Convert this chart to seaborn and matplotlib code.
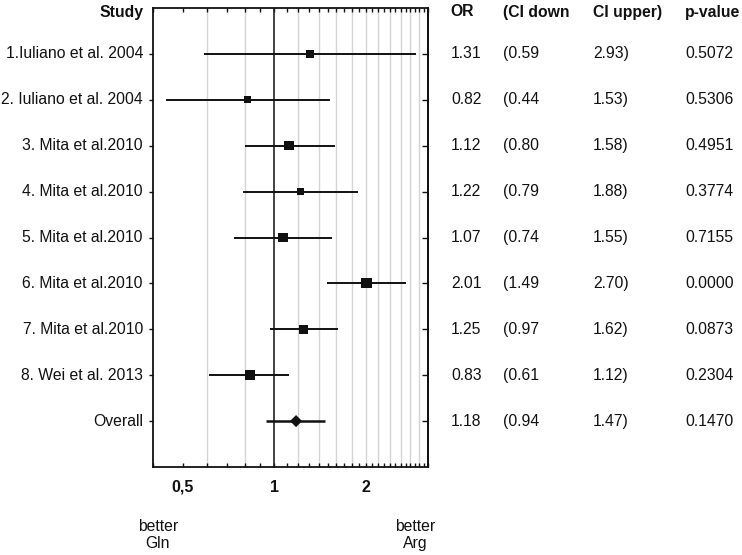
import numpy as np
import pandas as pd
import matplotlib
matplotlib.use('Agg')
import matplotlib.pyplot as plt
import matplotlib.transforms as mtrans
from matplotlib.ticker import FixedLocator, FixedFormatter, NullFormatter
import seaborn as sns

sns.set_style("white")
plt.rcParams['font.family'] = ['Liberation Sans', 'DejaVu Sans']

# data
studies = ['1.Iuliano et al. 2004', '2. Iuliano et al. 2004', '3. Mita et al.2010',
           '4. Mita et al.2010', '5. Mita et al.2010', '6. Mita et al.2010',
           '7. Mita et al.2010', '8. Wei et al. 2013', 'Overall']
odds = [1.31, 0.82, 1.12, 1.22, 1.07, 2.01, 1.25, 0.83, 1.18]
ci_low = [0.59, 0.44, 0.80, 0.79, 0.74, 1.49, 0.97, 0.61, 0.94]
ci_up = [2.93, 1.53, 1.58, 1.88, 1.55, 2.70, 1.62, 1.12, 1.47]
pvals = ['0.5072', '0.5306', '0.4951', '0.3774', '0.7155', '0.0000', '0.0873', '0.2304', '0.1470']
weights = [7.5, 7.0, 9.5, 7.0, 9.5, 10.0, 9.5, 10.0, 9.0]   # study weight -> marker size

df = pd.DataFrame({'study': studies, 'OR': odds, 'lo': ci_low, 'hi': ci_up,
                   'p': pvals, 'w': weights})
df['row'] = np.arange(1, len(df) + 1)
df['kind'] = ['study'] * 8 + ['overall']

fig = plt.figure(figsize=(7.42, 5.55), dpi=100)
ax = fig.add_axes([153 / 742, 1 - 467 / 555, 275 / 742, 459 / 555])

ax.set_xscale('log')
ax.set_xlim(0.4, 3.2)
ax.set_ylim(10, 0)

# grid lines
for g in [0.6, 0.8, 1.2, 1.4, 1.6, 1.8, 2.0, 2.2, 2.4, 2.6, 2.8, 3.0]:
    ax.axvline(g, color='#d4d4d4', lw=1, zorder=0)
ax.axvline(1, color='#222222', lw=1.2, zorder=1)

# confidence intervals
for _, r in df.iterrows():
    lw = 1.8 if r['kind'] == 'overall' else 1.4
    ax.hlines(r['row'], r['lo'], r['hi'], color='#111111', lw=lw, zorder=2)

st = df[df['kind'] == 'study']
sns.scatterplot(data=st, x='OR', y='row', size='w', sizes=(25, 52),
                marker='s', color='#111111', edgecolor='none', legend=False,
                ax=ax, zorder=3)
ov = df[df['kind'] == 'overall']
sns.scatterplot(data=ov, x='OR', y='row', marker='D', s=38, color='#111111',
                edgecolor='none', legend=False, ax=ax, zorder=3)

ax.set_xlabel('')
ax.set_ylabel('')
ax.xaxis.set_major_locator(FixedLocator([0.5, 1, 2]))
ax.xaxis.set_minor_locator(FixedLocator(list(np.round(np.arange(0.4, 3.21, 0.1), 2))))
ax.xaxis.set_major_formatter(FixedFormatter(['0,5', '1', '2']))
ax.xaxis.set_minor_formatter(NullFormatter())
ax.tick_params(axis='x', which='both', direction='in', top=True, bottom=True,
               length=3, width=1, labelsize=11.5, pad=9, colors='#111111')
ax.set_yticks(df['row'])
ax.set_yticklabels([])
ax.tick_params(axis='y', direction='out', left=True, right=False,
               length=3, width=1, colors='#111111')
sec = ax.secondary_yaxis('right')
sec.set_yticks(df['row'])
sec.set_yticklabels([])
sec.tick_params(axis='y', direction='in', length=4, width=1, colors='#111111')
sec.spines['right'].set_color('#111111')
sec.spines['right'].set_linewidth(1.3)
for s in ax.spines.values():
    s.set_color('#111111')
    s.set_linewidth(1.3)
for lab in ax.get_xticklabels():
    lab.set_fontweight('bold')

# text columns
tr = mtrans.blended_transform_factory(fig.transFigure, ax.transData)
fs = 11.3
fig.text(143 / 742, 1 - 12 / 555, 'Study', ha='right', va='center', fontsize=fs,
         fontweight='bold', color='#111111')
for xpx, h in [(450, 'OR'), (503, '(CI down'), (593, 'CI upper)'), (685, 'p-value')]:
    fig.text(xpx / 742, 1 - 12 / 555, h, ha='left', va='center', fontsize=fs,
             fontweight='bold', color='#111111')

for _, r in df.iterrows():
    ax.text(143 / 742, r['row'], r['study'], transform=tr, ha='right', va='center',
            fontsize=fs, color='#111111')
    ax.text(451 / 742, r['row'], f"{r['OR']:.2f}", transform=tr, ha='left',
            va='center', fontsize=fs, color='#111111')
    ax.text(503 / 742, r['row'], f"({r['lo']:.2f}", transform=tr, ha='left',
            va='center', fontsize=fs, color='#111111')
    ax.text(593 / 742, r['row'], f"{r['hi']:.2f})", transform=tr, ha='left',
            va='center', fontsize=fs, color='#111111')
    ax.text(685 / 742, r['row'], r['p'], transform=tr, ha='left', va='center',
            fontsize=fs, color='#111111')

fig.text(158 / 742, 1 - 535 / 555, 'better\nGln', ha='center', va='center',
         fontsize=fs, linespacing=1.1, color='#111111')
fig.text(415 / 742, 1 - 535 / 555, 'better\nArg', ha='center', va='center',
         fontsize=fs, linespacing=1.1, color='#111111')

fig.savefig('out.png', dpi=100)
